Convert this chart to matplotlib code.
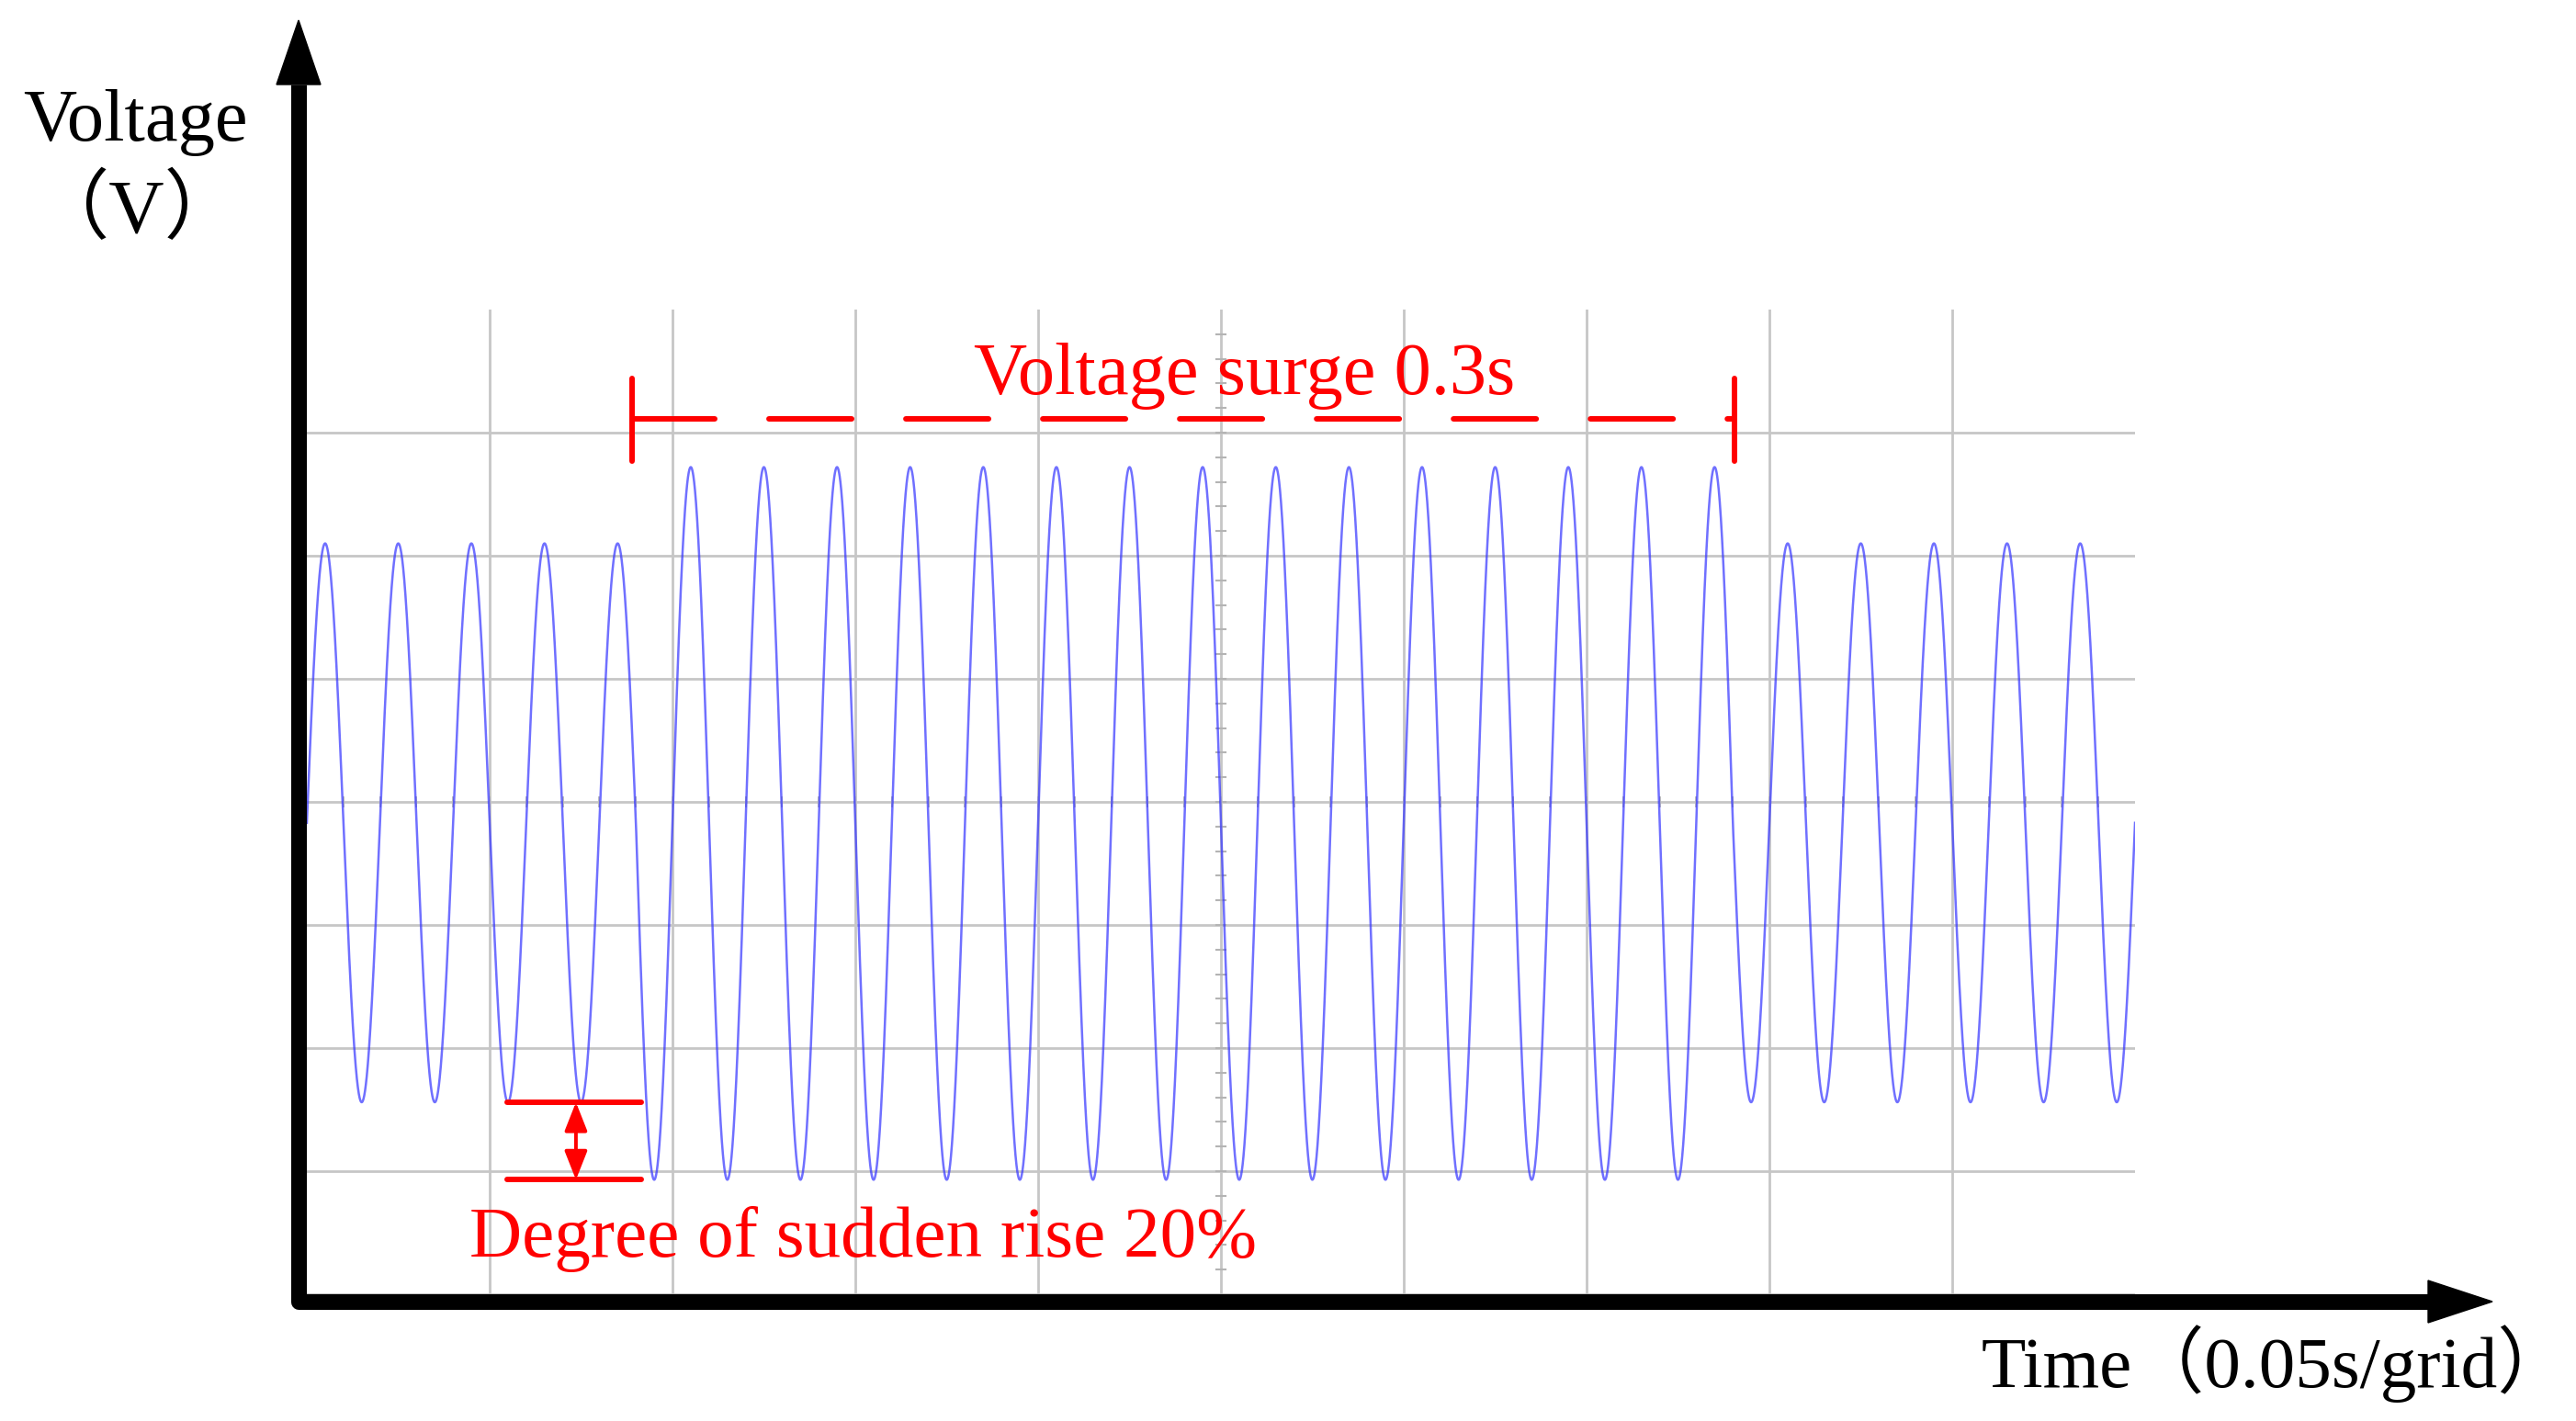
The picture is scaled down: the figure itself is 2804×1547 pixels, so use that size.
import numpy as np
import matplotlib
matplotlib.use("Agg")
import matplotlib.pyplot as plt
from matplotlib.patches import Polygon, ArrowStyle

plt.rcParams['font.family'] = ['Liberation Serif', 'Noto Sans CJK SC']
plt.rcParams['lines.scale_dashes'] = False

# oscilloscope screen: 10 x 0.05 s columns, 8 rows (values in grid divisions)
freq = 50
t_end = 0.5
zero_level = 3.83
# one value per cycle
peak_levels = [6.10, 6.10, 6.10, 6.10, 6.10,
               6.72, 6.72, 6.72, 6.72, 6.72, 6.72, 6.72, 6.72,
               6.72, 6.72, 6.72, 6.72, 6.72, 6.72, 6.72,
               6.10, 6.10, 6.10, 6.10, 6.10]
trough_levels = [1.56, 1.56, 1.56, 1.56,
                 0.93, 0.93, 0.93, 0.93, 0.93, 0.93, 0.93, 0.93,
                 0.93, 0.93, 0.93, 0.93, 0.93, 0.93, 0.93,
                 1.56, 1.56, 1.56, 1.56, 1.56, 1.56]
surge_start, surge_end = 0.089, 0.3905
rise_text = "Degree of sudden rise 20%"
surge_text = "Voltage surge 0.3s"

W, H = 2804, 1547
fig = plt.figure(figsize=(W / 100, H / 100), dpi=100)
ax = fig.add_axes([334 / W, (H - 1409) / H, 1990 / W, 1072 / H])
ax.set_xlim(0, t_end)
ax.set_ylim(0, 8)
ax.set_xticks(np.arange(1, 10) * 0.05)
ax.set_yticks(np.arange(0, 8))
ax.grid(True, color='#c6c6c6', lw=2.0)
ax.tick_params(length=0, labelbottom=False, labelleft=False)
for sp in ax.spines.values():
    sp.set_visible(False)

# small ticks on the centre cross
for yy in np.arange(0.2, 7.9, 0.2):
    ax.plot([0.25 - 0.0013, 0.25 + 0.0013], [yy, yy], color='#b4b4b4', lw=1.5)
for xx in np.arange(0.01, 0.495, 0.01):
    ax.plot([xx, xx], [4 - 0.035, 4 + 0.035], color='#bcbcbc', lw=1.4)

# trace
t = np.linspace(0, t_end, 20001)
s = np.sin(2 * np.pi * freq * t)
cyc = np.minimum((t * freq).astype(int), len(peak_levels) - 1)
up = np.array(peak_levels)[cyc] - zero_level
down = zero_level - np.array(trough_levels)[cyc]
v = zero_level + np.where(s >= 0, up, down) * s
ax.plot(t, v, color=(0.2, 0.2, 1.0), alpha=0.7, lw=1.8)

# surge bracket
red = '#ff0000'
yb = 7.11
ax.plot([surge_start, surge_end], [yb, yb], color=red, lw=4.3,
        linestyle=(0, (64.8, 42.5)), dash_capstyle='round', clip_on=False)
for xb in (surge_start, surge_end):
    ax.plot([xb, xb], [yb - 0.34, yb + 0.33], color=red, lw=4.3,
            solid_capstyle='round', clip_on=False)
ax.text(0.1824, 7.31, surge_text, color=red, fontsize=58,
        ha='left', va='baseline')

# rise marker
n_low = min(trough_levels[:4])
s_low = min(trough_levels)
ax.plot([0.0548, 0.0915], [n_low, n_low], color=red, lw=4.3, solid_capstyle='round')
ax.plot([0.0548, 0.0915], [s_low, s_low], color=red, lw=4.3, solid_capstyle='round')
ax.annotate('', xy=(0.0736, n_low), xytext=(0.0736, s_low),
            arrowprops=dict(arrowstyle=ArrowStyle('<|-|>', head_length=19, head_width=7.5),
                            mutation_scale=1, color=red, lw=2.8,
                            shrinkA=0, shrinkB=0))
ax.text(0.0445, 0.306, rise_text, color=red, fontsize=57,
        ha='left', va='baseline')

# axes arrows and labels (pixel space)
ov = fig.add_axes([0, 0, 1, 1])
ov.set_xlim(0, W)
ov.set_ylim(H, 0)
ov.axis('off')
ov.plot([325, 325, 2643], [92, 1417, 1417], color='black', lw=12.3,
        solid_joinstyle='round', solid_capstyle='butt')
ov.add_patch(Polygon([(301, 92), (349, 92), (325, 22)], closed=True, color='black'))
ov.add_patch(Polygon([(2643, 1394), (2643, 1440), (2713, 1417)], closed=True, color='black'))
ov.text(25, 153, "Voltage", fontsize=58, ha='left', va='baseline')
ov.text(149, 253, "（V）", fontsize=60, ha='center', va='baseline')
ov.text(2798, 1510, "Time（0.05s/grid）", fontsize=57, ha='right', va='baseline')

fig.savefig("out.png", dpi=100, facecolor='white')
